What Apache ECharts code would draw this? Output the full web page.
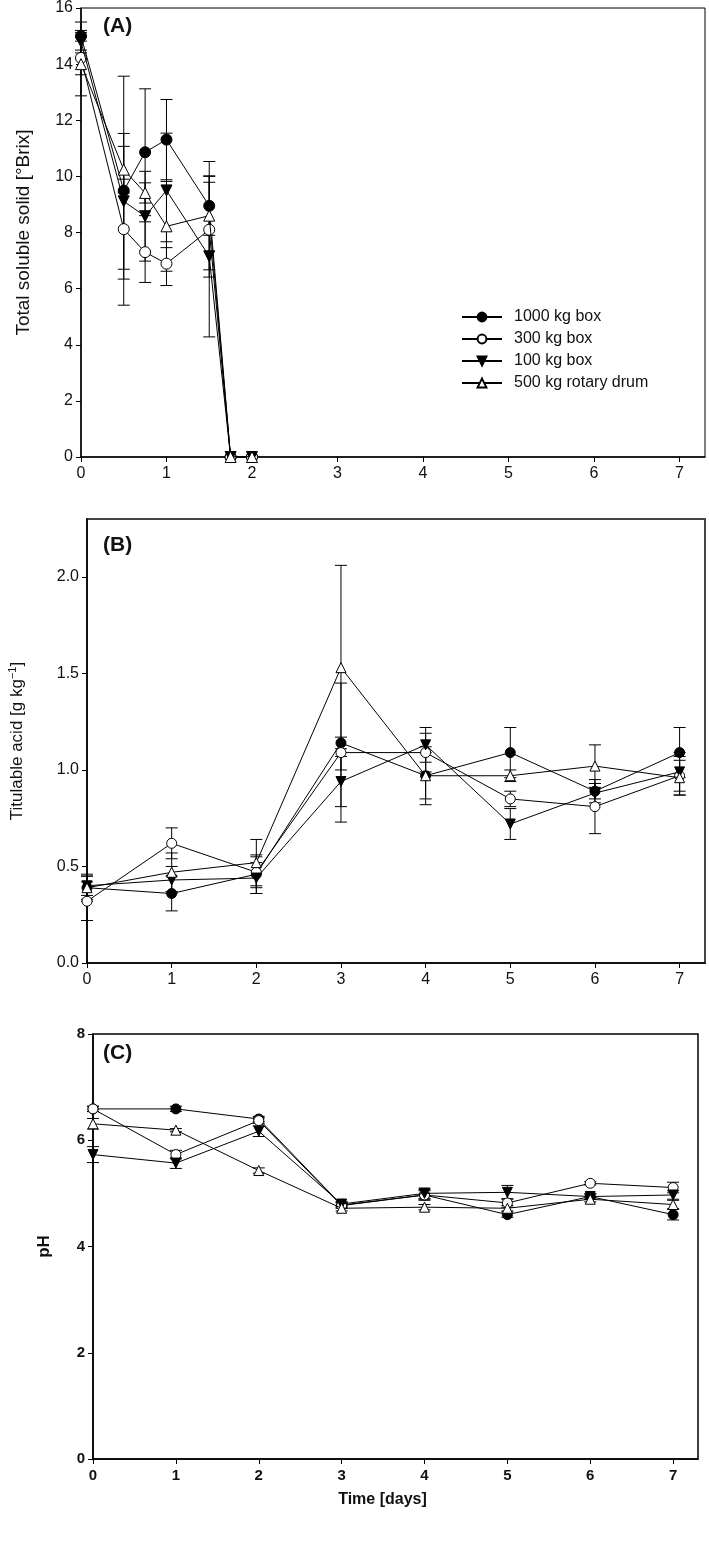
<!DOCTYPE html>
<html>
<head>
<meta charset="utf-8">
<script src="https://cdn.jsdelivr.net/npm/echarts@6.0.0/dist/echarts.min.js"></script>
<style>
  html, body { margin: 0; padding: 0; background: #fff; }
  #chart { width: 709px; height: 1543px; }
</style>
</head>
<body>
<div id="chart"></div>
<script>
// series names (same for all three panels)
const seriesNames = ['1000 kg box', '300 kg box', '100 kg box', '500 kg rotary drum']

// (A) total soluble solid [°Brix]
const timeA = [0, 0.5, 0.75, 1, 1.5, 1.75, 2]
const box1000A = [15.0, 9.49, 10.86, 11.31, 8.95, 0, 0]
const box1000A_sd = [0.5, 4.08, 2.26, 1.43, 1.05, 0, 0]
const box300A = [14.22, 8.12, 7.30, 6.89, 8.10, 0, 0]
const box300A_sd = [0.6, 1.78, 1.08, 0.78, 1.69, 0, 0]
const box100A = [14.8, 9.11, 8.58, 9.50, 7.15, 0, 0]
const box100A_sd = [0.4, 2.42, 1.6, 2.04, 2.87, 0, 0]
const drumA = [14.0, 10.24, 9.41, 8.22, 8.6, 0, 0]
const drumA_sd = [1.13, 0.83, 0.36, 1.6, 1.93, 0, 0]

// (B) titulable acid [g kg-1]
const timeB = [0, 1, 2, 3, 4, 5, 6, 7]
const box1000B = [0.39, 0.36, 0.46, 1.14, 0.97, 1.09, 0.89, 1.09]
const box1000B_sd = [0.07, 0.09, 0.10, 0.03, 0.12, 0.13, 0.04, 0.13]
const box300B = [0.32, 0.62, 0.47, 1.09, 1.09, 0.85, 0.81, 0.97]
const box300B_sd = [0.10, 0.08, 0.08, 0.36, 0.10, 0.04, 0.14, 0.10]
const box100B = [0.40, 0.43, 0.44, 0.94, 1.13, 0.72, 0.88, 0.99]
const box100B_sd = [0.05, 0.07, 0.08, 0.13, 0.09, 0.08, 0.05, 0.10]
const drumB = [0.39, 0.47, 0.52, 1.53, 0.97, 0.97, 1.02, 0.96]
const drumB_sd = [0.06, 0.10, 0.12, 0.53, 0.15, 0.03, 0.11, 0.09]

// (C) pH
const timeC = [0, 1, 2, 3, 4, 5, 6, 7]
const box1000C = [6.59, 6.59, 6.40, 4.78, 4.97, 4.60, 4.94, 4.60]
const box1000C_sd = [0.05, 0.05, 0.05, 0.05, 0.10, 0.05, 0.05, 0.10]
const box300C = [6.59, 5.73, 6.37, 4.77, 4.97, 4.82, 5.19, 5.11]
const box300C_sd = [0.05, 0.08, 0.05, 0.05, 0.08, 0.08, 0.03, 0.10]
const box100C = [5.73, 5.57, 6.17, 4.80, 5.00, 5.02, 4.94, 4.97]
const box100C_sd = [0.15, 0.10, 0.10, 0.05, 0.10, 0.13, 0.05, 0.08]
const drumC = [6.31, 6.19, 5.43, 4.72, 4.74, 4.72, 4.89, 4.79]
const drumC_sd = [0.10, 0.03, 0.05, 0.05, 0.05, 0.05, 0.05, 0.08]

// tick labels
const xTicks = [0, 1, 2, 3, 4, 5, 6, 7]
const yTicksA = [0, 2, 4, 6, 8, 10, 12, 14, 16]
const yTicksB = [0, 0.5, 1.0, 1.5, 2.0]
const yTicksC = [0, 2, 4, 6, 8]

const FONT = '"Liberation Sans", Arial, sans-serif'

// marker style per series: filled circle, open circle, filled down triangle, open triangle
const markers = [
  { symbol: 'circle', fill: '#000', rotate: 0 },
  { symbol: 'circle', fill: '#fff', rotate: 0 },
  { symbol: 'triangle', fill: '#000', rotate: 180 },
  { symbol: 'triangle', fill: '#fff', rotate: 0 }
]

function lineSeries(idx, k, times, means, size) {
  const m = markers[k]
  return {
    name: seriesNames[k],
    type: 'line',
    xAxisIndex: idx,
    yAxisIndex: idx,
    data: times.map((t, i) => [t, means[i]]),
    symbol: m.symbol,
    symbolSize: size,
    symbolRotate: m.rotate,
    showAllSymbol: true,
    lineStyle: { color: '#000', width: 1 },
    itemStyle: { color: m.fill, borderColor: '#000', borderWidth: 1 },
    z: 3 + k
  }
}

function errorSeries(idx, k, times, means, sd, capW) {
  const data = []
  times.forEach((t, i) => {
    if (sd[i] > 0) data.push([t, means[i] - sd[i], means[i] + sd[i]])
  })
  return {
    name: seriesNames[k] + ' sd',
    type: 'custom',
    xAxisIndex: idx,
    yAxisIndex: idx,
    data: data,
    z: 2,
    renderItem(params, api) {
      const lo = api.coord([api.value(0), api.value(1)])
      const hi = api.coord([api.value(0), api.value(2)])
      const st = { stroke: '#000', lineWidth: 1 }
      return {
        type: 'group',
        children: [
          { type: 'line', shape: { x1: lo[0], y1: lo[1], x2: hi[0], y2: hi[1] }, style: st },
          { type: 'line', shape: { x1: lo[0] - capW, y1: lo[1], x2: lo[0] + capW, y2: lo[1] }, style: st },
          { type: 'line', shape: { x1: hi[0] - capW, y1: hi[1], x2: hi[0] + capW, y2: hi[1] }, style: st }
        ]
      }
    }
  }
}

function xAxisFor(idx, fs, bold, name) {
  return {
    type: 'value',
    gridIndex: idx,
    min: 0,
    max: 7.3,
    name: name || '',
    nameLocation: 'middle',
    nameGap: 33,
    nameTextStyle: { fontFamily: FONT, fontSize: 16, fontWeight: 'bold', color: '#111', padding: [0, 26, 0, 0] },
    axisLine: { show: true, lineStyle: { color: '#000', width: 1.5 } },
    axisTick: { show: true, inside: false, length: 5, customValues: xTicks, lineStyle: { color: '#000', width: 1 } },
    axisLabel: { customValues: xTicks, margin: 9, fontFamily: FONT, fontSize: fs, fontWeight: bold ? 'bold' : 'normal', color: '#111' },
    splitLine: { show: false }
  }
}

function yAxisFor(idx, max, ticks, digits, fs, bold, name, gap, nameStyle) {
  return {
    type: 'value',
    gridIndex: idx,
    min: 0,
    max: max,
    name: name,
    nameLocation: 'middle',
    nameGap: gap,
    nameTextStyle: nameStyle,
    axisLine: { show: true, lineStyle: { color: '#000', width: 1.5 } },
    axisTick: { show: true, inside: false, length: 5, customValues: ticks, lineStyle: { color: '#000', width: 1 } },
    axisLabel: {
      customValues: ticks,
      margin: 8,
      fontFamily: FONT,
      fontSize: fs,
      fontWeight: bold ? 'bold' : 'normal',
      color: '#111',
      formatter: v => v.toFixed(digits)
    },
    splitLine: { show: false }
  }
}

const panels = [
  { times: timeA, means: [box1000A, box300A, box100A, drumA], sds: [box1000A_sd, box300A_sd, box100A_sd, drumA_sd], size: 11 },
  { times: timeB, means: [box1000B, box300B, box100B, drumB], sds: [box1000B_sd, box300B_sd, box100B_sd, drumB_sd], size: 10 },
  { times: timeC, means: [box1000C, box300C, box100C, drumC], sds: [box1000C_sd, box300C_sd, box100C_sd, drumC_sd], size: 10 }
]

const series = []
panels.forEach((p, idx) => {
  for (let k = 0; k < 4; k++) {
    series.push(errorSeries(idx, k, p.times, p.means[k], p.sds[k], 6))
  }
  for (let k = 0; k < 4; k++) {
    series.push(lineSeries(idx, k, p.times, p.means[k], p.size))
  }
})

const gridBase = { show: true, backgroundColor: 'transparent', containLabel: false, outerBoundsMode: 'none' }

const chart = echarts.init(document.getElementById('chart'))
chart.setOption({
  animation: false,
  backgroundColor: '#fff',
  textStyle: { fontFamily: FONT },
  grid: [
    Object.assign({ left: 81, right: 4, top: 8, height: 449, borderColor: '#000', borderWidth: 1 }, gridBase),
    Object.assign({ left: 87, right: 4, top: 519, height: 444, borderColor: '#444', borderWidth: 2 }, gridBase),
    Object.assign({ left: 93, right: 11, top: 1034, height: 425, borderColor: '#000', borderWidth: 1.5 }, gridBase)
  ],
  xAxis: [
    xAxisFor(0, 16, false),
    xAxisFor(1, 16, false),
    xAxisFor(2, 15, true, 'Time [days]')
  ],
  yAxis: [
    yAxisFor(0, 16, yTicksA, 0, 16, false, 'Total soluble solid [°Brix]', 48,
      { fontFamily: FONT, fontSize: 19, color: '#111' }),
    yAxisFor(1, 2.3, yTicksB, 1, 16, false, '{a|Titulable acid [g kg}{s|−1}{a|]}', 60,
      { rich: { a: { fontFamily: FONT, fontSize: 17, color: '#111' }, s: { fontFamily: FONT, fontSize: 11, color: '#111', padding: [0, 0, 9, 0] } } }),
    yAxisFor(2, 8, yTicksC, 0, 15, true, 'pH', 40,
      { fontFamily: FONT, fontSize: 17, fontWeight: 'bold', color: '#111' })
  ],
  legend: {
    data: seriesNames,
    orient: 'vertical',
    left: 456,
    top: 304,
    itemWidth: 40,
    itemHeight: 11,
    itemGap: 6,
    textStyle: { fontFamily: FONT, fontSize: 16, color: '#111', padding: [0, 0, 0, 7] }
  },
  graphic: [
    { type: 'text', left: 103, top: 16, style: { text: '(A)', font: 'bold 21px ' + FONT, fill: '#111' } },
    { type: 'text', left: 103, top: 535, style: { text: '(B)', font: 'bold 21px ' + FONT, fill: '#111' } },
    { type: 'text', left: 103, top: 1043, style: { text: '(C)', font: 'bold 21px ' + FONT, fill: '#111' } }
  ],
  series: series
})
</script>
</body>
</html>
